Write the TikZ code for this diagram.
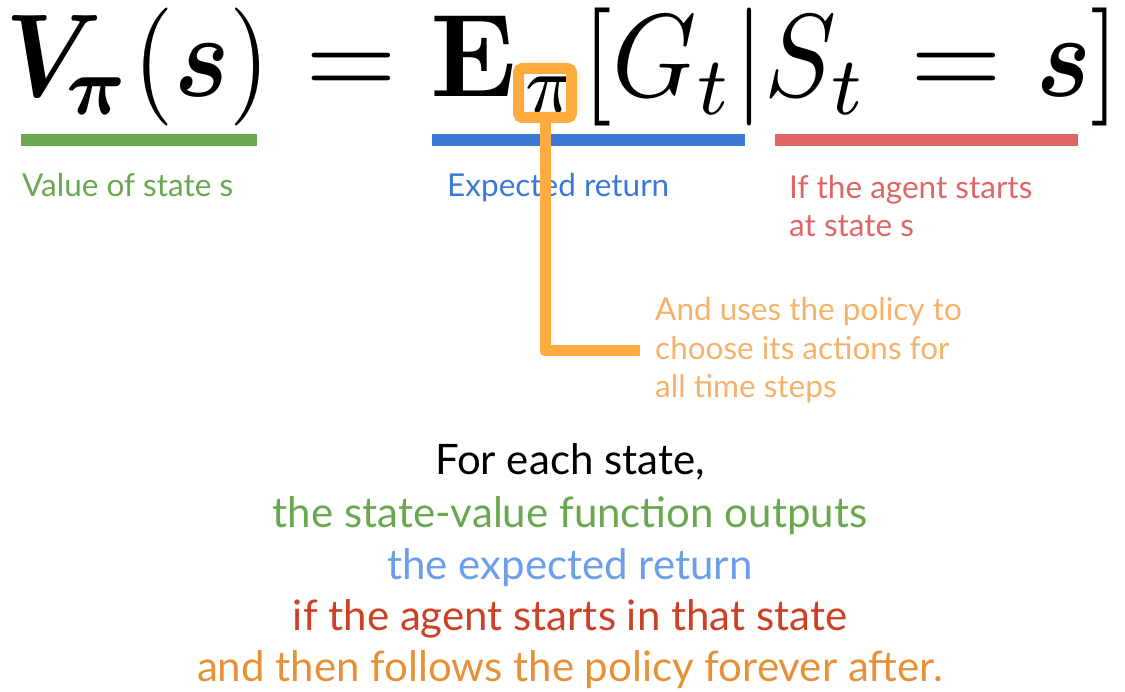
\documentclass[tikz,border=0pt]{standalone}
\usepackage{amsmath,bm}
\usepackage[no-math]{fontspec}
\setmainfont{Lato}
\definecolor{cgreen}{HTML}{6AA84F}
\definecolor{cblue}{HTML}{3C78D8}
\definecolor{cred}{HTML}{E06666}
\definecolor{corange}{HTML}{FFAB40}
\definecolor{cannot}{HTML}{F6B26B}
\definecolor{lblue}{HTML}{6D9EEB}
\definecolor{dred}{HTML}{CC4125}
\definecolor{dorange}{HTML}{E69138}
\tikzset{
  fm/.style={inner sep=0pt, anchor=base west, font=\fontsize{10}{12}\selectfont},
  lbl/.style={inner sep=0pt, anchor=base west, align=left, font=\fontsize{31.5}{38.5}\selectfont},
  summary/.style={inner sep=0pt, anchor=base, align=center, font=\fontsize{42}{51.5}\selectfont},
  conn/.style={draw=corange, line width=11pt, line join=round}
}
\newcommand{\bigmath}[2]{\scalebox{#1}[11.8]{$#2$}}
\begin{document}
\begin{tikzpicture}[x=1pt,y=-1pt]
\useasboundingbox (0,0) rectangle (1125,692);
% formula
\node[fm] (lhs) at (5,97) {\bigmath{10.4}{{\bm{V}}_{\mkern-2mu\bm{\pi}}\mkern0.5mu(\bm{s})}};
\node[fm] (eqa) at (305,97) {\bigmath{11.8}{=}};
\node[fm] (ex) at (430,97) {\bigmath{11.4}{\mathbf{E}}};
\node[fm] (pi) at (524,113) {\bigmath{10.8}{\scriptstyle\pi}};
\node[fm] (mid) at (582,97) {\bigmath{10.75}{[G_t|S_t}};
\node[fm] (eqb) at (910,97) {\bigmath{11.8}{=}};
\node[fm] (rhs) at (1036,97) {\bigmath{10.3}{\bm{s}]}};
% bars
\fill[cgreen] (21,134) rectangle (257,146);
\fill[cblue] (432,134) rectangle (745,146);
\fill[cred] (775,134) rectangle (1078,146);
% labels
\node[lbl, text=cgreen] (lv) at (22,197) {Value of state s};
\node[lbl, text=cblue] (le) at (447,197) {Expected return};
\node[lbl, text=cred] (ls) at (789,237) {If the agent starts\\at state s};
\node[lbl, text=cannot] (lp) at (655,398) {And uses the policy to\\choose its actions for\\all time steps};
% orange connector
\node[draw=corange, line width=11pt, rounded corners=4pt, minimum width=53pt, minimum height=49pt, inner sep=0pt] (pibox) at (545,93) {};
\coordinate (cend) at (640,351);
\draw[conn] (pibox.south) |- (cend);
% summary
\node[summary, text=black] (s1) at (570,475) {For each state,};
\node[summary, text=cgreen] (s2) at (570,527) {the state-value function outputs};
\node[summary, text=lblue] (s3) at (570,579) {the expected return};
\node[summary, text=dred] (s4) at (570,630) {if the agent starts in that state};
\node[summary, text=dorange] (s5) at (570,681) {and then follows the policy forever after.};
\end{tikzpicture}
\end{document}
